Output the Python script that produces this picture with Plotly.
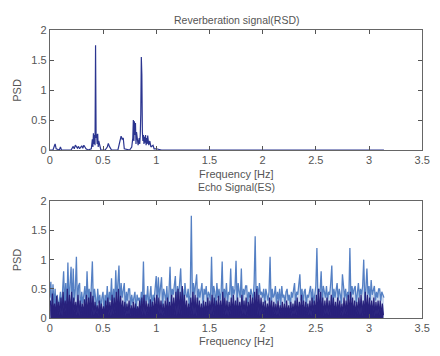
import numpy as np
import plotly.graph_objects as go

# ---------------- data ----------------
# Reverberation signal (RSD): frequency [Hz] and PSD
rsd_freq = [0.00, 0.03, 0.045, 0.05, 0.06, 0.09, 0.10, 0.11, 0.20, 0.22, 0.23, 0.24, 0.26, 0.27,
            0.28, 0.30, 0.31, 0.32, 0.33, 0.34, 0.36, 0.39, 0.40, 0.405, 0.41, 0.415, 0.42, 0.425,
            0.43, 0.435, 0.44, 0.445, 0.45, 0.455, 0.46, 0.48, 0.52, 0.54, 0.55, 0.56, 0.58, 0.64,
            0.65, 0.66, 0.67, 0.68, 0.69, 0.70, 0.75, 0.77, 0.78, 0.785, 0.79, 0.795, 0.80, 0.805,
            0.81, 0.815, 0.82, 0.83, 0.84, 0.845, 0.85, 0.855, 0.86, 0.865, 0.87, 0.875, 0.88,
            0.885, 0.89, 0.895, 0.90, 0.905, 0.91, 0.915, 0.92, 0.93, 0.94, 0.95, 0.97, 0.98, 1.00,
            1.05, 3.14]
rsd_psd = [0.00, 0.00, 0.08, 0.10, 0.02, 0.00, 0.05, 0.00, 0.00, 0.06, 0.02, 0.08, 0.03, 0.06,
           0.02, 0.07, 0.03, 0.08, 0.05, 0.02, 0.00, 0.02, 0.18, 0.05, 0.28, 0.10, 0.25, 0.08,
           1.75, 0.20, 0.26, 0.10, 0.27, 0.05, 0.15, 0.00, 0.00, 0.05, 0.11, 0.06, 0.00, 0.00,
           0.08, 0.20, 0.23, 0.18, 0.20, 0.02, 0.00, 0.05, 0.20, 0.50, 0.15, 0.48, 0.25, 0.45,
           0.10, 0.30, 0.18, 0.08, 0.20, 0.10, 0.25, 0.60, 1.55, 1.25, 0.30, 0.15, 0.25, 0.10,
           0.22, 0.12, 0.25, 0.08, 0.20, 0.10, 0.24, 0.08, 0.15, 0.05, 0.08, 0.02, 0.02,
           0.00, 0.00]

# Echo signal (ES): upper (light blue) trace, one value per 0.01 Hz from 0.00 to 3.14
es_upper = [
    0.35, 0.62, 0.10, 0.58, 0.20, 0.50, 0.05, 0.40, 0.15, 0.30,
    0.45, 0.12, 0.55, 0.80, 0.20, 0.60, 0.10, 0.95, 0.25, 0.70,
    0.88, 0.15, 0.85, 0.30, 0.50, 1.05, 0.20, 0.55, 0.60, 0.10,
    0.45, 0.25, 0.40, 0.55, 0.15, 0.80, 0.30, 0.50, 0.12, 0.60,
    0.97, 0.20, 0.50, 0.35, 0.10, 0.50, 0.25, 0.40, 0.15, 0.35,
    0.45, 0.10, 0.40, 0.25, 0.55, 0.20, 0.45, 0.30, 0.68, 0.15,
    0.50, 0.25, 0.82, 0.30, 0.55, 0.90, 0.20, 0.60, 0.35, 0.50,
    0.60, 0.15, 0.45, 0.30, 0.50, 0.50, 0.20, 0.40, 0.25, 0.35,
    0.45, 0.10, 0.40, 0.30, 0.35, 0.20, 0.45, 0.25, 0.97, 0.15,
    0.40, 0.30, 0.55, 0.20, 0.45, 0.55, 0.15, 0.40, 0.30, 0.50,
    0.72, 0.25, 0.70, 0.35, 0.55, 0.70, 0.20, 0.50, 0.40, 0.30,
    0.55, 0.15, 0.45, 0.88, 0.25, 0.50, 0.40, 0.60, 0.72, 0.20,
    0.55, 0.35, 0.60, 0.85, 0.30, 0.50, 0.20, 0.60, 0.40, 0.35,
    0.50, 0.20, 0.45, 1.75, 0.30, 0.60, 0.40, 0.55, 0.75, 0.25,
    0.50, 0.35, 0.45, 0.60, 0.20, 0.50, 0.40, 0.55, 0.25, 0.45,
    0.40, 0.30, 1.05, 0.25, 0.55, 0.45, 0.20, 0.60, 0.35, 0.50,
    0.30, 0.45, 0.97, 0.20, 0.50, 0.35, 0.60, 0.25, 0.45, 0.40,
    0.85, 0.30, 0.55, 0.40, 0.50, 0.98, 0.25, 0.60, 0.45, 0.35,
    0.85, 0.20, 0.50, 0.40, 0.55, 0.55, 0.25, 0.45, 0.35, 0.50,
    0.40, 0.30, 0.60, 1.40, 0.25, 0.55, 0.35, 0.60, 0.40, 0.45,
    0.35, 0.50, 0.25, 0.50, 0.40, 0.30, 0.45, 1.05, 0.20, 0.50,
    0.35, 0.40, 0.55, 0.25, 0.45, 0.30, 0.50, 0.20, 0.55, 0.35,
    0.40, 0.25, 0.45, 0.50, 0.30, 0.40, 0.20, 0.45, 0.35, 0.50,
    0.60, 0.25, 0.45, 0.40, 0.55, 0.75, 0.30, 0.50, 0.25, 0.45,
    0.50, 0.20, 0.40, 0.35, 0.45, 0.55, 0.30, 0.50, 0.25, 0.40,
    0.55, 1.20, 0.30, 0.50, 0.45, 0.80, 0.25, 0.55, 0.40, 0.35,
    0.55, 0.30, 0.45, 0.40, 0.60, 0.90, 0.25, 0.50, 0.35, 0.45,
    0.60, 0.30, 0.50, 0.40, 0.25, 0.75, 0.45, 0.35, 0.50, 0.30,
    0.45, 0.35, 1.20, 0.30, 0.55, 0.40, 0.50, 0.55, 0.25, 0.45,
    0.60, 0.35, 0.50, 0.40, 0.55, 1.00, 0.30, 0.50, 0.85, 0.40,
    0.55, 0.30, 0.65, 0.40, 0.50, 0.55, 0.30, 0.45, 0.35, 0.50,
    0.50, 0.30, 0.45, 0.40, 0.35,
]
# Echo signal (ES): dense lower (dark) trace, one value per 0.01 Hz from 0.005 to 3.135
es_lower = [
    0.30, 0.04, 0.42, 0.08, 0.25, 0.03, 0.38, 0.06, 0.28, 0.05,
    0.35, 0.04, 0.45, 0.10, 0.30, 0.05, 0.50, 0.06, 0.40, 0.08,
    0.45, 0.03, 0.35, 0.10, 0.28, 0.05, 0.40, 0.04, 0.30, 0.06,
    0.25, 0.05, 0.32, 0.08, 0.40, 0.03, 0.35, 0.06, 0.45, 0.04,
    0.38, 0.05, 0.28, 0.08, 0.22, 0.03, 0.30, 0.06, 0.25, 0.05,
    0.20, 0.04, 0.30, 0.06, 0.35, 0.05, 0.28, 0.03, 0.40, 0.06,
    0.35, 0.08, 0.45, 0.05, 0.50, 0.04, 0.38, 0.06, 0.30, 0.05,
    0.28, 0.04, 0.25, 0.06, 0.30, 0.03, 0.22, 0.05, 0.28, 0.04,
    0.25, 0.05, 0.20, 0.06, 0.30, 0.03, 0.35, 0.05, 0.40, 0.04,
    0.30, 0.06, 0.25, 0.05, 0.32, 0.03, 0.28, 0.06, 0.35, 0.05,
    0.40, 0.04, 0.35, 0.06, 0.30, 0.05, 0.25, 0.03, 0.30, 0.06,
    0.35, 0.05, 0.28, 0.04, 0.40, 0.06, 0.35, 0.05, 0.45, 0.04,
    0.50, 0.06, 0.45, 0.05, 0.55, 0.03, 0.40, 0.06, 0.30, 0.05,
    0.25, 0.04, 0.35, 0.06, 0.45, 0.05, 0.40, 0.03, 0.35, 0.06,
    0.30, 0.05, 0.25, 0.04, 0.30, 0.06, 0.28, 0.05, 0.35, 0.03,
    0.30, 0.06, 0.40, 0.05, 0.35, 0.04, 0.30, 0.06, 0.38, 0.05,
    0.30, 0.03, 0.45, 0.06, 0.35, 0.05, 0.30, 0.04, 0.28, 0.06,
    0.35, 0.05, 0.40, 0.03, 0.30, 0.06, 0.35, 0.05, 0.28, 0.04,
    0.40, 0.06, 0.30, 0.05, 0.35, 0.03, 0.28, 0.06, 0.40, 0.05,
    0.35, 0.04, 0.45, 0.06, 0.50, 0.05, 0.40, 0.03, 0.35, 0.06,
    0.28, 0.05, 0.30, 0.04, 0.25, 0.06, 0.35, 0.05, 0.30, 0.03,
    0.28, 0.06, 0.25, 0.05, 0.30, 0.04, 0.22, 0.06, 0.28, 0.05,
    0.25, 0.03, 0.30, 0.06, 0.22, 0.05, 0.28, 0.04, 0.25, 0.06,
    0.30, 0.05, 0.35, 0.03, 0.28, 0.06, 0.40, 0.05, 0.30, 0.04,
    0.28, 0.06, 0.25, 0.05, 0.30, 0.03, 0.35, 0.06, 0.30, 0.05,
    0.40, 0.04, 0.50, 0.06, 0.45, 0.05, 0.35, 0.03, 0.30, 0.06,
    0.35, 0.05, 0.30, 0.04, 0.40, 0.06, 0.35, 0.05, 0.28, 0.03,
    0.35, 0.06, 0.30, 0.05, 0.25, 0.04, 0.35, 0.06, 0.30, 0.05,
    0.40, 0.03, 0.45, 0.06, 0.35, 0.05, 0.30, 0.04, 0.28, 0.06,
    0.35, 0.05, 0.40, 0.03, 0.30, 0.06, 0.45, 0.05, 0.40, 0.04,
    0.35, 0.06, 0.30, 0.05, 0.35, 0.03, 0.28, 0.06, 0.30, 0.05,
    0.30, 0.04, 0.25, 0.05,
]
es_step = 0.01
es_freq_upper = np.round(np.arange(len(es_upper)) * es_step, 3)
es_freq_lower = np.round(0.005 + np.arange(len(es_lower)) * es_step, 3)

x_ticks = [0, 0.5, 1, 1.5, 2, 2.5, 3, 3.5]
x_tick_labels = ["0", "0.5", "1", "1.5", "2", "2.5", "3", "3.5"]
y_ticks = [0, 0.5, 1, 1.5, 2]
y_tick_labels = ["0", "0.5", "1", "1.5", "2"]

titles = ["Reverberation signal(RSD)", "Echo Signal(ES)"]
x_label = "Frequency [Hz]"
y_label = "PSD"

# ---------------- figure ----------------
W, H = 440, 356
fig = go.Figure()

fig.add_trace(go.Scatter(x=rsd_freq, y=rsd_psd, mode="lines",
                         line=dict(color="#2b3590", width=1.2),
                         xaxis="x", yaxis="y", showlegend=False))
fig.add_trace(go.Scatter(x=es_freq_upper, y=es_upper, mode="lines",
                         line=dict(color="#5580c4", width=1.3),
                         fill="tozeroy", fillcolor="rgba(100,140,205,0.35)",
                         xaxis="x2", yaxis="y2", showlegend=False))
fig.add_trace(go.Scatter(x=es_freq_lower, y=es_lower, mode="lines",
                         line=dict(color="#28217c", width=1.2),
                         fill="tozeroy", fillcolor="#29217a",
                         xaxis="x2", yaxis="y2", showlegend=False))

x0, x1 = 48 / W, 430 / W
top_dom = [1 - 149 / H, 1 - 25 / H]
bot_dom = [1 - 323 / H, 1 - 202 / H]

tickfont = dict(family="Arial, Liberation Sans, sans-serif", size=11, color="#555555")

def xax(anchor):
    return dict(domain=[x0, x1], range=[0, 3.5], anchor=anchor,
                tickvals=x_ticks, ticktext=x_tick_labels,
                ticks="inside", ticklen=4, tickcolor="#555555",
                showline=True, linecolor="#666666", linewidth=1, mirror="ticks",
                showgrid=False, zeroline=False, tickfont=tickfont)

def yax(anchor, dom):
    return dict(domain=dom, range=[0, 2], anchor=anchor,
                tickvals=y_ticks, ticktext=y_tick_labels,
                ticks="inside", ticklen=4, tickcolor="#555555",
                showline=True, linecolor="#666666", linewidth=1, mirror="ticks",
                showgrid=False, zeroline=False, tickfont=tickfont)

fig.update_layout(
    width=W, height=H,
    margin=dict(l=0, r=0, t=0, b=0),
    paper_bgcolor="white", plot_bgcolor="white",
    xaxis=xax("y"), yaxis=yax("x", top_dom),
    xaxis2=xax("y2"), yaxis2=yax("x2", bot_dom),
)

lab_font = dict(family="Arial, Liberation Sans, sans-serif", size=11, color="#555555")
ttl_font = dict(family="Arial, Liberation Sans, sans-serif", size=10.5, color="#555555")
cx = (x0 + x1) / 2
ann = [
    dict(text=titles[0], x=cx, y=1 - 15 / H, font=ttl_font),
    dict(text=titles[1], x=cx, y=1 - 187 / H, font=ttl_font),
    dict(text=x_label, x=cx, y=1 - 174 / H, font=lab_font),
    dict(text=x_label, x=cx, y=1 - 347 / H, font=lab_font),
    dict(text=y_label, x=14 / W, y=(top_dom[0] + top_dom[1]) / 2, font=lab_font, textangle=-90),
    dict(text=y_label, x=14 / W, y=(bot_dom[0] + bot_dom[1]) / 2, font=lab_font, textangle=-90),
]
for a in ann:
    a.update(xref="paper", yref="paper", showarrow=False, xanchor="center", yanchor="middle")
fig.update_layout(annotations=ann)

fig.write_html("out.html")
